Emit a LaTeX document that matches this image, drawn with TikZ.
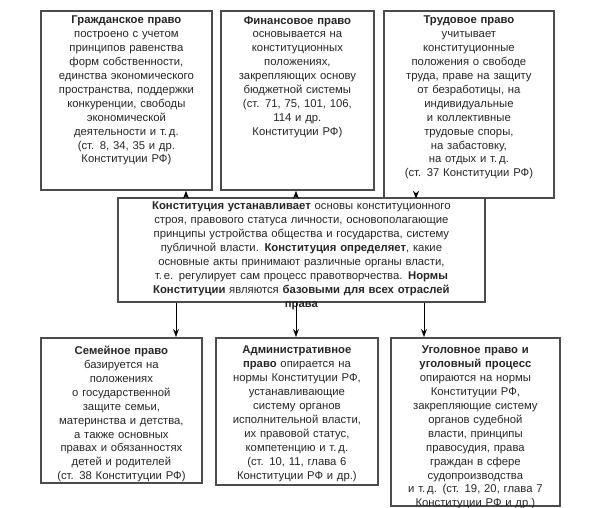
\documentclass[tikz,border=0pt]{standalone}
\usepackage{fontspec}
\setmainfont{Liberation Sans}
\usetikzlibrary{arrows.meta}
\begin{document}
\begin{tikzpicture}[x=1pt,y=-1pt,
  box/.style={draw=black!70,line width=1.8pt,fill=white,inner sep=0pt,anchor=north west},
  txt/.style={anchor=north,align=center,inner sep=0pt,font=\fontsize{11.3}{13.9}\selectfont,text=black!85},
  arr/.style={-{Stealth[length=8pt,width=6pt]},line width=1pt}]
\useasboundingbox (0,0) rectangle (600,508);
\node[box,minimum width=171pt,minimum height=179pt] (t1) at (40,10) {};
\node[box,minimum width=153pt,minimum height=179pt] (t2) at (220,10) {};
\node[box,minimum width=170pt,minimum height=187pt] (t3) at (383,10) {};
\node[box,minimum width=367pt,minimum height=104pt] (c) at (117,197) {};
\node[box,minimum width=161pt,minimum height=145pt] (b1) at (40,337) {};
\node[box,minimum width=162pt,minimum height=147pt] (b2) at (215,337) {};
\node[box,minimum width=169pt,minimum height=168pt] (b3) at (390,337) {};
\node[txt,text width=168pt] (t1t) at ([yshift=-6pt]t1.north) {\textbf{Гражданское право}\\построено с учетом\\принципов равенства\\форм собственности,\\единства экономического\\пространства, поддержки\\конкуренции, свободы\\экономической\\деятельности и т.\,д.\\(ст. 8, 34, 35 и др.\\Конституции РФ)};
\node[txt,text width=152pt] (t2t) at ([yshift=-6pt]t2.north) {\textbf{Финансовое право}\\основывается на\\конституционных\\положениях,\\закрепляющих основу\\бюджетной системы\\(ст. 71, 75, 101, 106,\\114 и др.\\Конституции РФ)};
\node[txt,text width=168pt] (t3t) at ([yshift=-6pt]t3.north) {\textbf{Трудовое право}\\учитывает\\конституционные\\положения о свободе\\труда, праве на защиту\\от безработицы, на\\индивидуальные\\и коллективные\\трудовые споры,\\на забастовку,\\на отдых и т.\,д.\\(ст. 37 Конституции РФ)};
\node[txt,text width=362pt] (ct) at ([yshift=-5pt]c.north) {\textbf{Конституция устанавливает} основы конституционного\\строя, правового статуса личности, основополагающие\\принципы устройства общества и государства, систему\\публичной власти. \textbf{Конституция определяет}, какие\\основные акты принимают различные органы власти,\\т.\,е. регулирует сам процесс правотворчества. \textbf{Нормы}\\\textbf{Конституции} являются \textbf{базовыми для всех отраслей}\\\textbf{права}};
\node[txt,text width=160pt] (b1t) at ([yshift=-9pt]b1.north) {\textbf{Семейное право}\\базируется на\\положениях\\о государственной\\защите семьи,\\материнства и детства,\\а также основных\\правах и обязанностях\\детей и родителей\\(ст. 38 Конституции РФ)};
\node[txt,text width=160pt] (b2t) at ([yshift=-9pt]b2.north) {\textbf{Административное}\\\textbf{право} опирается на\\нормы Конституции РФ,\\устанавливающие\\систему органов\\исполнительной власти,\\их правовой статус,\\компетенцию и т.\,д.\\(ст. 10, 11, глава 6\\Конституции РФ и др.)};
\node[txt,text width=168pt] (b3t) at ([yshift=-9pt]b3.north) {\textbf{Уголовное право и}\\\textbf{уголовный процесс}\\опираются на нормы\\Конституции РФ,\\закрепляющие систему\\органов судебной\\власти, принципы\\правосудия, права\\граждан в сфере\\судопроизводства\\и т.\,д. (ст. 19, 20, глава 7\\Конституции РФ и др.)};
\draw[arr] (c.north -| 186,0) -- (t1.south -| 186,0);
\draw[arr] (c.north -| 296,0) -- (t2.south -| 296,0);
\draw[arr] (c.north -| 416,0) -- (t3.south -| 416,0);
\draw[arr] (c.south -| 176,0) -- (b1.north -| 176,0);
\draw[arr] (c.south -| 296,0) -- (b2.north -| 296,0);
\draw[arr] (c.south -| 424,0) -- (b3.north -| 424,0);
\end{tikzpicture}
\end{document}
